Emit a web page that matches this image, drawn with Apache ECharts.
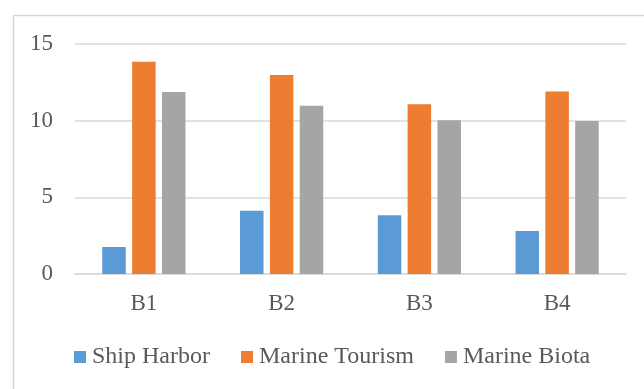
<!DOCTYPE html>
<html>
<head>
<meta charset="utf-8">
<script src="https://cdn.jsdelivr.net/npm/echarts@6/dist/echarts.min.js"></script>
<style>
html,body{margin:0;padding:0;background:#fff;}
#chart{width:644px;height:389px;}
</style>
</head>
<body>
<div id="chart"></div>
<script>
const categories = ['B1', 'B2', 'B3', 'B4'];
const shipHarbor = [1.76, 4.13, 3.83, 2.8];
const marineTourism = [13.85, 12.98, 11.07, 11.91];
const marineBiota = [11.87, 10.98, 10.02, 9.98];
const seriesNames = ['Ship Harbor', 'Marine Tourism', 'Marine Biota'];
const yTicks = { min: 0, max: 15, interval: 5 };

const font = '"Liberation Serif", "Times New Roman", serif';
const textColor = '#595959';
const colors = ['#5B9BD5', '#ED7D31', '#A5A5A5'];

const chart = echarts.init(document.getElementById('chart'), null, { renderer: 'canvas' });
const mk = (name, data, color) => ({
  name, type: 'bar', data,
  barWidth: 23.5, barGap: '27%',
  itemStyle: { color },
  emphasis: { disabled: true }
});
chart.setOption({
  animation: false,
  backgroundColor: '#fff',
  color: colors,
  graphic: [{
    type: 'rect', left: 11, top: 13, silent: true, z: -10,
    shape: { width: 700, height: 420 },
    style: { fill: 'none', stroke: '#d9d9d9', lineWidth: 1.5 }
  }],
  grid: { left: 75, right: 18, top: 44, bottom: 115, containLabel: false },
  legend: {
    left: 74, top: 345, padding: 0,
    itemWidth: 12, itemHeight: 12, itemGap: 31,
    icon: 'rect',
    textStyle: { fontFamily: font, fontSize: 24, color: textColor, padding: [0, 0, 0, 1] },
    data: seriesNames
  },
  xAxis: {
    type: 'category', data: categories,
    axisLine: { show: true, lineStyle: { color: '#d9d9d9', width: 1.5 } },
    axisTick: { show: false },
    axisLabel: { fontFamily: font, fontSize: 23, color: textColor, margin: 18 }
  },
  yAxis: {
    type: 'value', min: yTicks.min, max: yTicks.max, interval: yTicks.interval,
    axisLine: { show: false }, axisTick: { show: false },
    splitLine: { lineStyle: { color: '#d9d9d9', width: 1.5 } },
    axisLabel: { fontFamily: font, fontSize: 23, color: textColor, margin: 22 }
  },
  series: [
    mk(seriesNames[0], shipHarbor, colors[0]),
    mk(seriesNames[1], marineTourism, colors[1]),
    mk(seriesNames[2], marineBiota, colors[2])
  ]
});
</script>
</body>
</html>
